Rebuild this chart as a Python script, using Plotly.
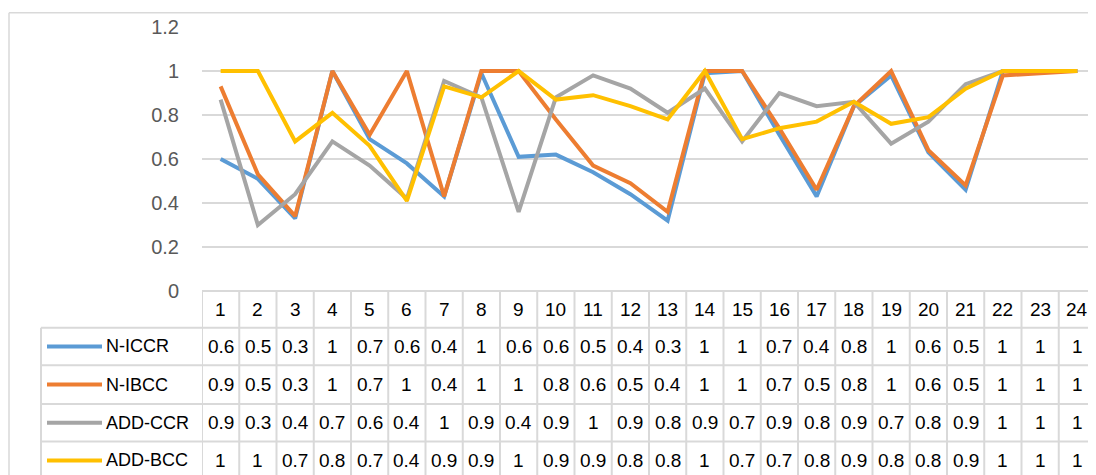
import plotly.graph_objects as go

categories = list(range(1, 25))

n_iccr = [0.60, 0.51, 0.33, 1.00, 0.69, 0.58, 0.43, 0.99, 0.61, 0.62, 0.54, 0.44,
          0.32, 0.99, 1.00, 0.71, 0.43, 0.84, 0.98, 0.63, 0.46, 1.00, 1.00, 1.00]
n_ibcc = [0.93, 0.53, 0.34, 1.00, 0.71, 1.00, 0.43, 1.00, 1.00, 0.78, 0.57, 0.49,
          0.36, 1.00, 1.00, 0.74, 0.46, 0.84, 1.00, 0.64, 0.48, 0.98, 0.99, 1.00]
add_ccr = [0.87, 0.30, 0.44, 0.68, 0.57, 0.42, 0.955, 0.88, 0.36, 0.88, 0.98, 0.92,
           0.81, 0.92, 0.68, 0.90, 0.84, 0.86, 0.67, 0.77, 0.94, 1.00, 1.00, 1.00]
add_bcc = [1.00, 1.00, 0.68, 0.81, 0.66, 0.41, 0.93, 0.88, 1.00, 0.87, 0.89, 0.84,
           0.78, 1.00, 0.69, 0.74, 0.77, 0.86, 0.76, 0.79, 0.92, 1.00, 1.00, 1.00]

series_names = ["N-ICCR", "N-IBCC", "ADD-CCR", "ADD-BCC"]
series_values = [n_iccr, n_ibcc, add_ccr, add_bcc]
colors = ["#5B9BD5", "#ED7D31", "#A5A5A5", "#FFC000"]

OFF = 8  # page body margin
W, H = 1096, 475
# plot area in page pixels
PX0, PX1, PY0, PY1 = 202, 1096, 24.5, 291
L = PX0 - OFF
R = W - (PX1 - OFF)
T = PY0 - OFF
B = H - (PY1 - OFF)
PW = PX1 - PX0
PH = PY1 - PY0
FONT = "Liberation Sans, Arial, sans-serif"
GRID = "#d9d9d9"


def xp(px):
    return (px - PX0) / PW


def yp(py):
    return (PY1 - py) / PH


def fmt(v):
    r = round(v + 1e-9, 1)
    if abs(r - round(r)) < 1e-9:
        return str(int(round(r)))
    return f"{r:.1f}"


fig = go.Figure()
for name, vals, c in zip(series_names, series_values, colors):
    fig.add_trace(go.Scatter(x=categories, y=vals, mode="lines", name=name,
                             line=dict(color=c, width=4), showlegend=False))

shapes = []
# outer chart border
shapes.append(dict(type="line", xref="paper", yref="paper", x0=xp(9), x1=xp(1110),
                   y0=yp(10), y1=yp(10), line=dict(color=GRID, width=1.5)))
shapes.append(dict(type="line", xref="paper", yref="paper", x0=xp(9), x1=xp(9),
                   y0=yp(10), y1=yp(490), line=dict(color=GRID, width=1.5)))

row_tops = [291, 328, 366, 405, 443]
row_bottom = 490
# horizontal table lines
for i, yt in enumerate(row_tops):
    x_start = PX0 if i == 0 else 41
    shapes.append(dict(type="line", xref="paper", yref="paper", x0=xp(x_start), x1=xp(1110),
                       y0=yp(yt), y1=yp(yt), line=dict(color=GRID, width=2)))
# vertical table lines along categories
for k in range(len(categories) + 1):
    shapes.append(dict(type="line", xref="x", yref="paper", x0=k + 0.5, x1=k + 0.5,
                       y0=yp(row_tops[0]), y1=yp(row_bottom), line=dict(color=GRID, width=2)))
# left border of legend column
shapes.append(dict(type="line", xref="paper", yref="paper", x0=xp(41), x1=xp(41),
                   y0=yp(row_tops[1]), y1=yp(row_bottom), line=dict(color=GRID, width=2)))

annotations = []
# header numbers
hy = 309.5
for c in categories:
    annotations.append(dict(x=c, y=yp(hy), xref="x", yref="paper", text=str(c),
                            showarrow=False, xanchor="center", yanchor="middle",
                            font=dict(family=FONT, size=19, color="#000000")))

row_centers = [347, 385.5, 424, 462]
for name, vals, c, cy in zip(series_names, series_values, colors, row_centers):
    shapes.append(dict(type="line", xref="paper", yref="paper", x0=xp(47), x1=xp(102),
                       y0=yp(cy), y1=yp(cy), line=dict(color=c, width=4)))
    annotations.append(dict(x=xp(104), y=yp(cy), xref="paper", yref="paper", text=name,
                            showarrow=False, xanchor="left", yanchor="middle",
                            font=dict(family=FONT, size=18, color="#000000")))
    for cat, v in zip(categories, vals):
        annotations.append(dict(x=cat, y=yp(cy), xref="x", yref="paper", text=fmt(v),
                                showarrow=False, xanchor="center", yanchor="middle",
                                font=dict(family=FONT, size=19, color="#000000")))

fig.update_layout(
    width=W, height=H,
    margin=dict(l=L, r=R, t=T, b=B, pad=0),
    paper_bgcolor="white", plot_bgcolor="white",
    xaxis=dict(range=[0.5, 24.5], showticklabels=False, showgrid=False, zeroline=False,
               showline=False, ticks=""),
    yaxis=dict(range=[0, 1.2], dtick=0.2, tick0=0, showgrid=True, gridcolor=GRID,
               gridwidth=2, zeroline=False, showline=False, ticks="",
               ticklabelstandoff=22,
               tickfont=dict(family=FONT, size=20, color="#595959")),
    shapes=shapes,
    annotations=annotations,
)

fig.write_html("out.html")
